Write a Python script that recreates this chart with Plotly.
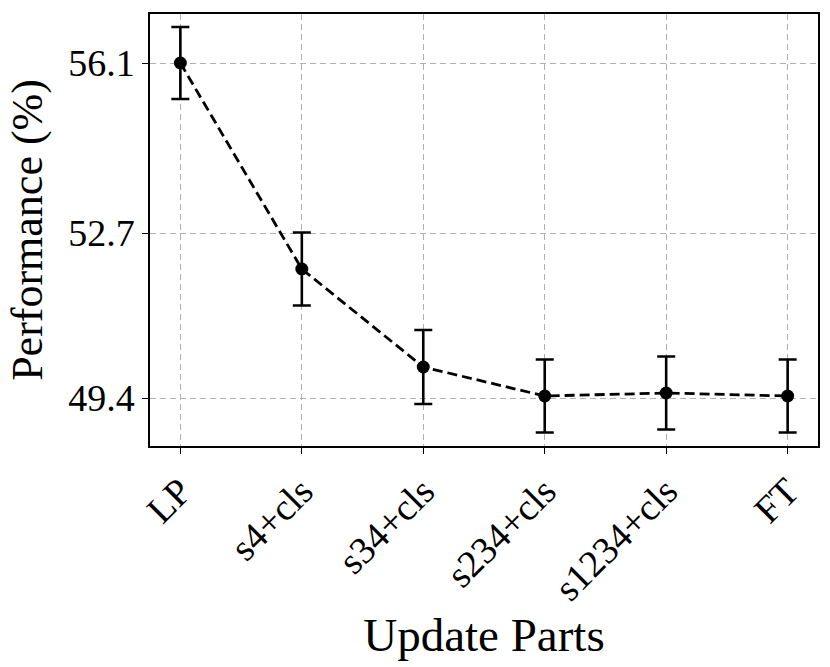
import plotly.graph_objects as go

categories = ["LP", "s4+cls", "s34+cls", "s234+cls", "s1234+cls", "FT"]
performance = [56.1, 51.98, 50.02, 49.44, 49.5, 49.44]
errors = [0.72, 0.73, 0.74, 0.73, 0.73, 0.73]
ytick_vals = [49.4, 52.7, 56.1]
ytick_text = ["49.4", "52.7", "56.1"]

font_family = "Liberation Serif, Times New Roman, serif"

fig = go.Figure()
fig.add_trace(go.Scatter(
    x=list(range(len(categories))),
    y=performance,
    mode="lines+markers",
    line=dict(color="black", width=2.8, dash="10px,5px"),
    marker=dict(color="black", size=13),
    error_y=dict(type="data", array=errors, visible=True, color="black",
                 thickness=2.6, width=9),
    showlegend=False,
))

fig.update_layout(
    width=830, height=667,
    margin=dict(l=150, r=12, t=14, b=221, autoexpand=False),
    plot_bgcolor="white", paper_bgcolor="white",
    font=dict(family=font_family, color="black"),
)
fig.update_xaxes(
    range=[-0.25, 5.25],
    tickmode="array", tickvals=list(range(len(categories))), ticktext=categories,
    tickangle=-45, tickfont=dict(size=38, family=font_family),
    ticks="outside", ticklen=6, tickcolor="black", tickwidth=1.2,
    showline=True, linecolor="black", linewidth=1.5, mirror=True,
    showgrid=True, gridcolor="#b0b0b0", griddash="6px,4px", gridwidth=1,
    title=dict(text="Update Parts", font=dict(size=47, family=font_family), standoff=8),
    zeroline=False, automargin=True,
)
fig.update_yaxes(
    range=[48.44, 57.08],
    tickmode="array", tickvals=ytick_vals, ticktext=ytick_text,
    tickfont=dict(size=38, family=font_family),
    ticks="outside", ticklen=6, tickcolor="black", tickwidth=1.2,
    showline=True, linecolor="black", linewidth=1.5, mirror=True,
    showgrid=True, gridcolor="#b0b0b0", griddash="6px,4px", gridwidth=1,
    title=dict(text="Performance (%)", font=dict(size=44, family=font_family), standoff=12),
    zeroline=False, automargin=True,
)

fig.write_html("out.html", config={"displayModeBar": False},
               post_script="document.body.style.margin='0';")
